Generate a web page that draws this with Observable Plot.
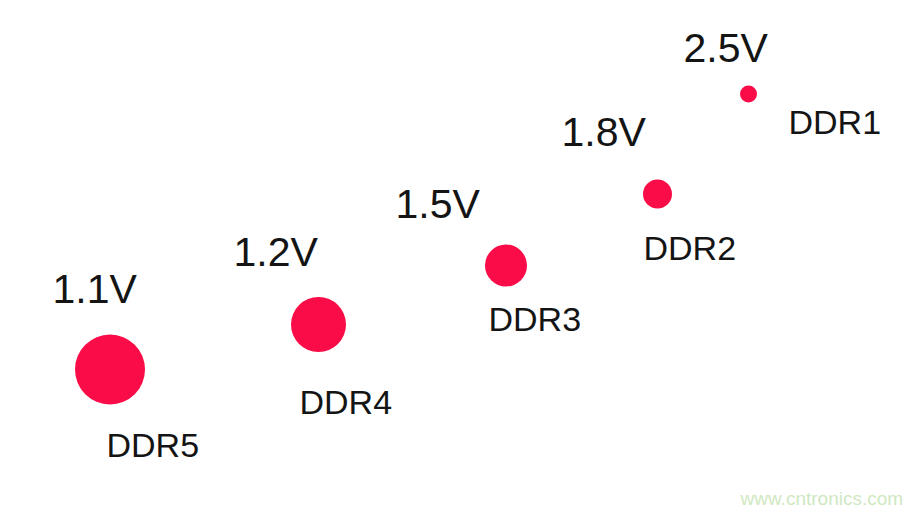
<!DOCTYPE html>
<html>
<head>
<meta charset="utf-8">
<script src="https://cdn.jsdelivr.net/npm/d3@7"></script>
<script src="https://cdn.jsdelivr.net/npm/@observablehq/plot@0.6"></script>
<style>
  html, body { margin: 0; padding: 0; background: #ffffff; }
  #chart svg { display: block; }
</style>
</head>
<body>
<div id="chart"></div>
<script>
// Generations (categories)
const generations = ["DDR5", "DDR4", "DDR3", "DDR2", "DDR1"];
// Supply voltage labels
const voltages = ["1.1V", "1.2V", "1.5V", "1.8V", "2.5V"];
// Bubble position (chart units)
const bubbleX = [109.5, 318, 505.5, 657, 748];
const bubbleY = [369, 324, 265, 193.5, 93.5];
// Bubble size (radius units)
const bubbleSize = [35, 27.5, 21, 14.5, 8.5];
// Voltage label anchor (left, baseline)
const voltX = [52, 233, 395, 561, 683];
const voltY = [302, 265, 217, 145, 61];
// Generation label anchor (left, baseline)
const genX = [106, 299, 488, 643, 788];
const genY = [456, 413, 330, 259, 133];
// Watermark
const watermark = "www.cntronics.com";
const watermarkX = [740];
const watermarkY = [504];

const W = 924, H = 513;

const data = generations.map((g, i) => ({
  gen: g, volt: voltages[i],
  x: bubbleX[i], y: bubbleY[i], size: bubbleSize[i],
  vx: voltX[i], vy: voltY[i], gx: genX[i], gy: genY[i]
}));

const chart = Plot.plot({
  width: W,
  height: H,
  margin: 0,
  x: {domain: [0, W], range: [0, W], axis: null},
  y: {domain: [0, H], range: [0, H], axis: null},
  r: {type: "linear", domain: [0, 35], range: [0, 35]},
  style: {background: "#ffffff", fontFamily: "'Liberation Sans', Arial, sans-serif"},
  marks: [
    Plot.dot(data, {x: "x", y: "y", r: "size", fill: "#f90c47", stroke: "none"}),
    Plot.text(data, {x: "vx", y: "vy", text: "volt", textAnchor: "start", lineAnchor: "bottom",
      fontSize: 41, fill: "#141414"}),
    Plot.text(data, {x: "gx", y: "gy", text: "gen", textAnchor: "start", lineAnchor: "bottom",
      fontSize: 34, fill: "#141414", style: "letter-spacing: 3.5px"}),
    Plot.text([watermark], {x: watermarkX, y: watermarkY, text: d => d, textAnchor: "start",
      lineAnchor: "bottom", fontSize: 19, fill: "#cfe8c2"})
  ]
});
document.getElementById("chart").appendChild(chart);
</script>
</body>
</html>
